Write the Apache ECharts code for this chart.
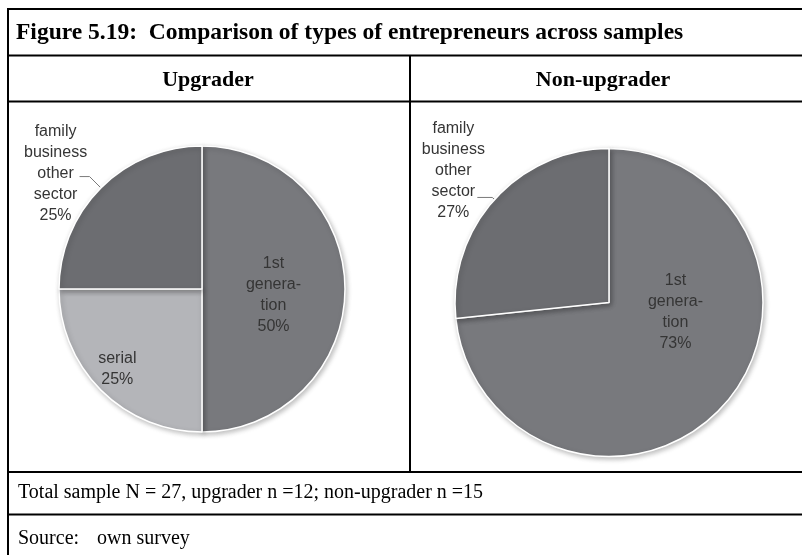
<!DOCTYPE html>
<html><head><meta charset="utf-8">
<script src="https://cdn.jsdelivr.net/npm/echarts@6/dist/echarts.min.js"></script>
<style>html,body{margin:0;padding:0;background:#fff}#c{width:802px;height:555px}</style>
</head><body><div id="c"></div>
<script>
// ---- data ----
const titleText = 'Figure 5.19:  Comparison of types of entrepreneurs across samples';
const panelTitles = ['Upgrader', 'Non-upgrader'];
const categories = ['1st generation', 'serial', 'family business other sector'];
const categoryLabels = ['1st\ngenera-\ntion', 'serial', 'family\nbusiness\nother\nsector'];
const upgraderValues = [6, 3, 3];      // n = 12
const nonUpgraderValues = [11, 0, 4];  // n = 15
const footnoteText = 'Total sample N = 27, upgrader n =12; non-upgrader n =15';
const sourceLabel = 'Source:';
const sourceText = 'own survey';

// ---- styles ----
const sliceColors = ['#78797d', '#b4b5b9', '#6c6d71'];
const labelPlacement = ['inside', 'inside', 'outside'];
const serif = '"Times New Roman", "Liberation Serif", serif';
const sans = 'Arial, "Liberation Sans", sans-serif';
// label offsets from the library's default label position, per panel and category
const labelOffsets = [
  [[-3, 6], [-32, 27], [-24, -3]],
  [[7, -44], [0, 0], [-24, -27]]
];
const lineLens = [[16, 10], [3, 15]];

function buildData(values) {
  const out = [];
  values.forEach((v, i) => {
    if (v > 0) out.push({
      name: categories[i], value: v,
      itemStyle: { color: sliceColors[i] },
      label: { position: labelPlacement[i] },
      labelLine: { show: labelPlacement[i] === 'outside' }
    });
  });
  return out;
}

function makeLayout(si) {
  return function (params) {
    const name = chart.getModel().getSeriesByIndex(si).getData().getName(params.dataIndex);
    const ci = categories.indexOf(name);
    const off = labelOffsets[si][ci];
    if (labelPlacement[ci] === 'outside' && params.labelLinePoints) {
      const pts = params.labelLinePoints;
      const last = pts[pts.length - 1];
      return { x: last[0] + off[0], y: last[1] + off[1], align: 'center', verticalAlign: 'middle', labelLinePoints: pts };
    }
    const r = params.labelRect;
    return { x: r.x + r.width / 2 + off[0], y: r.y + r.height / 2 + off[1], align: 'center', verticalAlign: 'middle' };
  };
}

function pieSeries(values, center, radius, si) {
  return {
    type: 'pie',
    center: center,
    radius: radius,
    startAngle: 90,
    clockwise: true,
    percentPrecision: 0,
    animation: false,
    silent: true,
    data: buildData(values),
    itemStyle: {
      borderColor: '#ffffff', borderWidth: 1.5,
      shadowBlur: 5, shadowColor: 'rgba(0,0,0,0.25)', shadowOffsetX: 1.5, shadowOffsetY: 2
    },
    label: {
      show: true,
      color: '#353535',
      fontFamily: sans,
      fontSize: 16,
      lineHeight: 21,
      align: 'center',
      formatter: p => categoryLabels[categories.indexOf(p.name)] + '\n' + p.percent + '%'
    },
    labelLine: {
      show: true, length: lineLens[si][0], length2: lineLens[si][1], smooth: false,
      lineStyle: { color: '#7a7a7a', width: 1 }
    },
    labelLayout: makeLayout(si)
  };
}

const black = { stroke: '#000', lineWidth: 2 };
function hline(x1, x2, y) { return { type: 'line', shape: { x1, y1: y, x2, y2: y }, style: black, silent: true }; }
function vline(x, y1, y2) { return { type: 'line', shape: { x1: x, y1, x2: x, y2 }, style: black, silent: true }; }
function txt(x, y, text, font, size, weight, align, sx) {
  return { type: 'text', x, y, silent: true, scaleX: sx || 1,
    style: { text, fill: '#000', font: (weight || 'normal') + ' ' + size + 'px ' + font, textAlign: align || 'left', textVerticalAlign: 'middle' } };
}

const chart = echarts.init(document.getElementById('c'), null, { renderer: 'canvas' });
chart.setOption({
  backgroundColor: '#ffffff',
  animation: false,
  graphic: [
    hline(7, 802, 9), hline(7, 802, 55.5), hline(7, 802, 101.5), hline(7, 802, 472), hline(7, 802, 514.5),
    vline(8, 8, 555), vline(410, 55.5, 472),
    txt(16, 33, titleText, serif, 24, 'bold', 'left', 0.98),
    txt(208, 80, panelTitles[0], serif, 22, 'bold', 'center'),
    txt(603, 80, panelTitles[1], serif, 22, 'bold', 'center'),
    txt(18, 493, footnoteText, serif, 20),
    txt(18, 539, sourceLabel, serif, 20),
    txt(97, 539, sourceText, serif, 20)
  ],
  series: [
    pieSeries(upgraderValues, [202, 289], 143, 0),
    pieSeries(nonUpgraderValues, [609, 302.5], 154, 1)
  ]
});
</script></body></html>
